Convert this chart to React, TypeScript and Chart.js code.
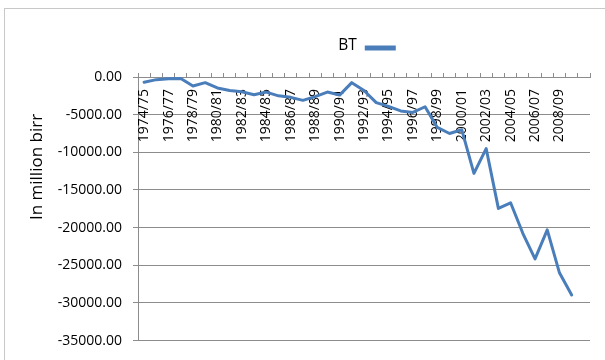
import { useEffect, useRef } from "react";
import { Chart, registerables } from "chart.js";

Chart.register(...registerables);

// Fiscal years (Ethiopian budget years); the last slot is an empty category.
const years = [
  "1974/75", "1975/76", "1976/77", "1977/78", "1978/79", "1979/80",
  "1980/81", "1981/82", "1982/83", "1983/84", "1984/85", "1985/86",
  "1986/87", "1987/88", "1988/89", "1989/90", "1990/91", "1991/92",
  "1992/93", "1993/94", "1994/95", "1995/96", "1996/97", "1997/98",
  "1998/99", "1999/00", "2000/01", "2001/02", "2002/03", "2003/04",
  "2004/05", "2005/06", "2006/07", "2007/08", "2008/09", "2009/10", "",
];

// Balance of trade, in million birr.
const btValues = [
  -700, -350, -220, -200, -1200, -750, -1450, -1800, -1950, -2350,
  -2000, -2500, -2700, -3100, -2600, -2000, -2400, -750, -1800, -3400,
  -3900, -4500, -4700, -3950, -6700, -7500, -7000, -12800, -9500, -17450,
  -16700, -20750, -24150, -20300, -26000, -28950,
];

const seriesLabel = "BT";
const yAxisTitle = "In million birr";
const yMin = -35000;
const yMax = 0;
const yStep = 5000;

const FONT = "'Open Sans', 'Liberation Sans', sans-serif";
const LINE_BLUE = "#4a7ebb";
const GRID_GRAY = "#8c8c8c";

// White background plus the thin outer frame of the chart object.
const framePlugin = {
  id: "frame",
  beforeDraw(chart: any) {
    const { ctx, width, height } = chart;
    ctx.save();
    ctx.fillStyle = "#ffffff";
    ctx.fillRect(0, 0, width, height);
    ctx.strokeStyle = "#c8c8c8";
    ctx.lineWidth = 1;
    ctx.strokeRect(4.5, 8.5, width + 10, height + 10);
    ctx.restore();
  },
};

// Category labels hang just below the axis line, rotated, every second year.
const xLabelPlugin = {
  id: "xLabels",
  beforeDatasetsDraw(chart: any) {
    const { ctx, scales } = chart;
    const x = scales.x;
    const top = chart.chartArea.top;
    ctx.save();
    ctx.fillStyle = "#000000";
    ctx.font = `14px ${FONT}`;
    ctx.textAlign = "right";
    ctx.textBaseline = "middle";
    years.forEach((label, i) => {
      if (i % 2 !== 0 || !label) return;
      const px = x.getPixelForValue(i);
      ctx.save();
      ctx.translate(px, top + 12);
      ctx.rotate(-Math.PI / 2);
      ctx.fillText(label, 0, 0);
      ctx.restore();
    });
    ctx.restore();
  },
};

// Vertical axis title and the legend entry (text followed by a line sample).
const annotationPlugin = {
  id: "annotations",
  afterDraw(chart: any) {
    const { ctx, chartArea } = chart;
    ctx.save();
    ctx.fillStyle = "#000000";
    ctx.font = `17px ${FONT}`;
    ctx.textAlign = "center";
    ctx.textBaseline = "middle";
    ctx.translate(37, 167);
    ctx.rotate(-Math.PI / 2);
    ctx.fillText(yAxisTitle, 0, 0);
    ctx.restore();

    const ds = chart.data.datasets[0];
    ctx.save();
    ctx.font = `15.5px ${FONT}`;
    ctx.textBaseline = "middle";
    ctx.textAlign = "left";
    const tw = ctx.measureText(ds.label).width;
    const gap = 8;
    const sample = 31;
    const cx = (chartArea.left + chartArea.right) / 2;
    const start = cx - (tw + gap + sample) / 2 + 3;
    ctx.fillStyle = "#000000";
    ctx.fillText(ds.label, start, 46);
    ctx.strokeStyle = ds.borderColor;
    ctx.lineWidth = 5;
    ctx.beginPath();
    ctx.moveTo(start + tw + gap, 48);
    ctx.lineTo(start + tw + gap + sample, 48);
    ctx.stroke();
    ctx.restore();
  },
};

export default function App() {
  const canvasRef = useRef<HTMLCanvasElement | null>(null);

  useEffect(() => {
    if (!canvasRef.current) return;
    const chart = new Chart(canvasRef.current, {
      type: "line",
      data: {
        labels: years,
        datasets: [
          {
            label: seriesLabel,
            data: btValues,
            borderColor: LINE_BLUE,
            backgroundColor: LINE_BLUE,
            borderWidth: 3,
            pointRadius: 0,
            tension: 0,
            borderJoinStyle: "round",
            borderCapStyle: "round",
          },
        ],
      },
      options: {
        responsive: false,
        animation: false,
        devicePixelRatio: 1,
        layout: { padding: { left: 0, right: 15, top: 73, bottom: 17 } },
        plugins: {
          legend: { display: false },
          tooltip: { enabled: false },
        },
        scales: {
          x: {
            type: "category",
            position: "top",
            offset: true,
            grid: {
              offset: true,
              drawOnChartArea: false,
              tickLength: 4,
              color: GRID_GRAY,
            },
            border: { display: true, color: GRID_GRAY, width: 1 },
            ticks: { display: false },
            afterFit: (scale: any) => {
              scale.height = 4;
            },
          },
          y: {
            min: yMin,
            max: yMax,
            grid: { color: GRID_GRAY, tickLength: 5, lineWidth: 1 },
            border: { display: true, color: GRID_GRAY, width: 1 },
            ticks: {
              stepSize: yStep,
              padding: 11,
              color: "#000000",
              font: { family: FONT, size: 14 },
              callback: (v: any) => Number(v).toFixed(2),
            },
            afterFit: (scale: any) => {
              scale.width = 138;
            },
          },
        },
      },
      plugins: [framePlugin, xLabelPlugin, annotationPlugin],
    });
    return () => chart.destroy();
  }, []);

  return (
    <div style={{ position: "absolute", left: 0, top: 0, width: 605, height: 360 }}>
      <canvas ref={canvasRef} width={605} height={360} style={{ display: "block" }} />
    </div>
  );
}
